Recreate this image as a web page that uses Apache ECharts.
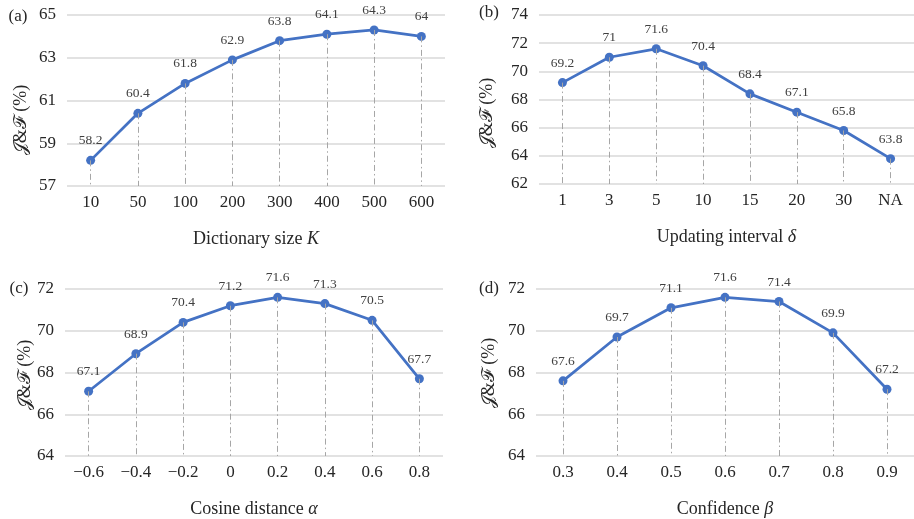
<!DOCTYPE html>
<html>
<head>
<meta charset="utf-8">
<script src="https://cdn.jsdelivr.net/npm/echarts@6/dist/echarts.min.js"></script>
<style>
  html, body { margin: 0; padding: 0; background: #fff; }
  #main { width: 914px; height: 519px; }
</style>
</head>
<body>
<div id="main"></div>
<script>
// data
var categoriesA = ['10', '50', '100', '200', '300', '400', '500', '600'];
var valuesA = [58.2, 60.4, 61.8, 62.9, 63.8, 64.1, 64.3, 64];
var yTicksA = [57, 59, 61, 63, 65];

var categoriesB = ['1', '3', '5', '10', '15', '20', '30', 'NA'];
var valuesB = [69.2, 71, 71.6, 70.4, 68.4, 67.1, 65.8, 63.8];
var yTicksB = [62, 64, 66, 68, 70, 72, 74];

var categoriesC = ['\u22120.6', '\u22120.4', '\u22120.2', '0', '0.2', '0.4', '0.6', '0.8'];
var valuesC = [67.1, 68.9, 70.4, 71.2, 71.6, 71.3, 70.5, 67.7];
var yTicksC = [64, 66, 68, 70, 72];

var categoriesD = ['0.3', '0.4', '0.5', '0.6', '0.7', '0.8', '0.9'];
var valuesD = [67.6, 69.7, 71.1, 71.6, 71.4, 69.9, 67.2];
var yTicksD = [64, 66, 68, 70, 72];

var xNames = ['Dictionary size {i|K}', 'Updating interval {i|\u03b4}', 'Cosine distance {i|\u03b1}', 'Confidence {i|\u03b2}'];
var panelTags = ['(a)', '(b)', '(c)', '(d)'];
var yName = '\ud835\udca5&\u2131 (%)';

var FONT = '"Liberation Serif", "DejaVu Serif", serif';
var BLUE = '#4472c4';

var panels = [
    {cats: categoriesA, vals: valuesA, ticks: yTicksA, grid: {left: 67, top: 15, width: 378, height: 171}, tag: [18, 17], yt: [21, 120]},
    {cats: categoriesB, vals: valuesB, ticks: yTicksB, grid: {left: 539, top: 15, width: 375, height: 169}, tag: [489, 13], yt: [487, 113]},
    {cats: categoriesC, vals: valuesC, ticks: yTicksC, grid: {left: 65, top: 289, width: 378, height: 170}, tag: [19, 289], yt: [25, 375]},
    {cats: categoriesD, vals: valuesD, ticks: yTicksD, grid: {left: 536, top: 289, width: 378, height: 169}, tag: [489, 289], yt: [489, 373]}
];

var grids = [], xAxes = [], yAxes = [], series = [], graphics = [];

panels.forEach(function (p, k) {
    var yMin = p.ticks[0];
    var yMax = p.ticks[p.ticks.length - 1];
    grids.push(p.grid);
    xAxes.push({
        type: 'category',
        gridIndex: k,
        data: p.cats,
        boundaryGap: true,
        axisLine: {show: false},
        axisTick: {show: false},
        axisLabel: {fontFamily: FONT, fontSize: 17, color: '#262626', margin: 8},
        name: xNames[k],
        nameLocation: 'middle',
        nameGap: 44,
        nameTextStyle: {
            fontFamily: FONT, fontSize: 18, color: '#262626',
            rich: {i: {fontFamily: FONT, fontSize: 18, fontStyle: 'italic', color: '#262626'}}
        }
    });
    yAxes.push({
        type: 'value',
        gridIndex: k,
        min: yMin,
        max: yMax,
        interval: p.ticks[1] - p.ticks[0],
        axisLine: {show: false},
        axisTick: {show: false},
        axisLabel: {fontFamily: FONT, fontSize: 17, color: '#262626', margin: 11},
        splitLine: {lineStyle: {color: '#d9d9d9', width: 1.5}}
    });
    series.push({
        type: 'line',
        xAxisIndex: k,
        yAxisIndex: k,
        data: p.vals,
        symbol: 'circle',
        symbolSize: 9,
        lineStyle: {color: BLUE, width: 2.75},
        itemStyle: {color: BLUE},
        label: {show: true, position: 'top', distance: 8, fontFamily: FONT, fontSize: 13.5, color: '#404040'},
        markLine: {
            silent: true,
            symbol: 'none',
            animation: false,
            label: {show: false},
            lineStyle: {color: '#a6a6a6', width: 1, type: [6, 3, 1.5, 3]},
            data: p.vals.map(function (v, i) {
                return [{coord: [p.cats[i], v]}, {coord: [p.cats[i], yMin]}];
            })
        },
        animation: false
    });
    graphics.push({
        type: 'text', x: p.tag[0], y: p.tag[1],
        style: {text: panelTags[k], font: '17px ' + FONT, fill: '#262626', align: 'center', verticalAlign: 'middle'}
    });
    graphics.push({
        type: 'text', x: p.yt[0], y: p.yt[1], rotation: Math.PI / 2,
        style: {text: yName, font: '18px ' + FONT, fill: '#262626', align: 'center', verticalAlign: 'middle'}
    });
});

var myChart = echarts.init(document.getElementById('main'));
myChart.setOption({
    animation: false,
    grid: grids,
    xAxis: xAxes,
    yAxis: yAxes,
    series: series,
    graphic: graphics
});
</script>
</body>
</html>
